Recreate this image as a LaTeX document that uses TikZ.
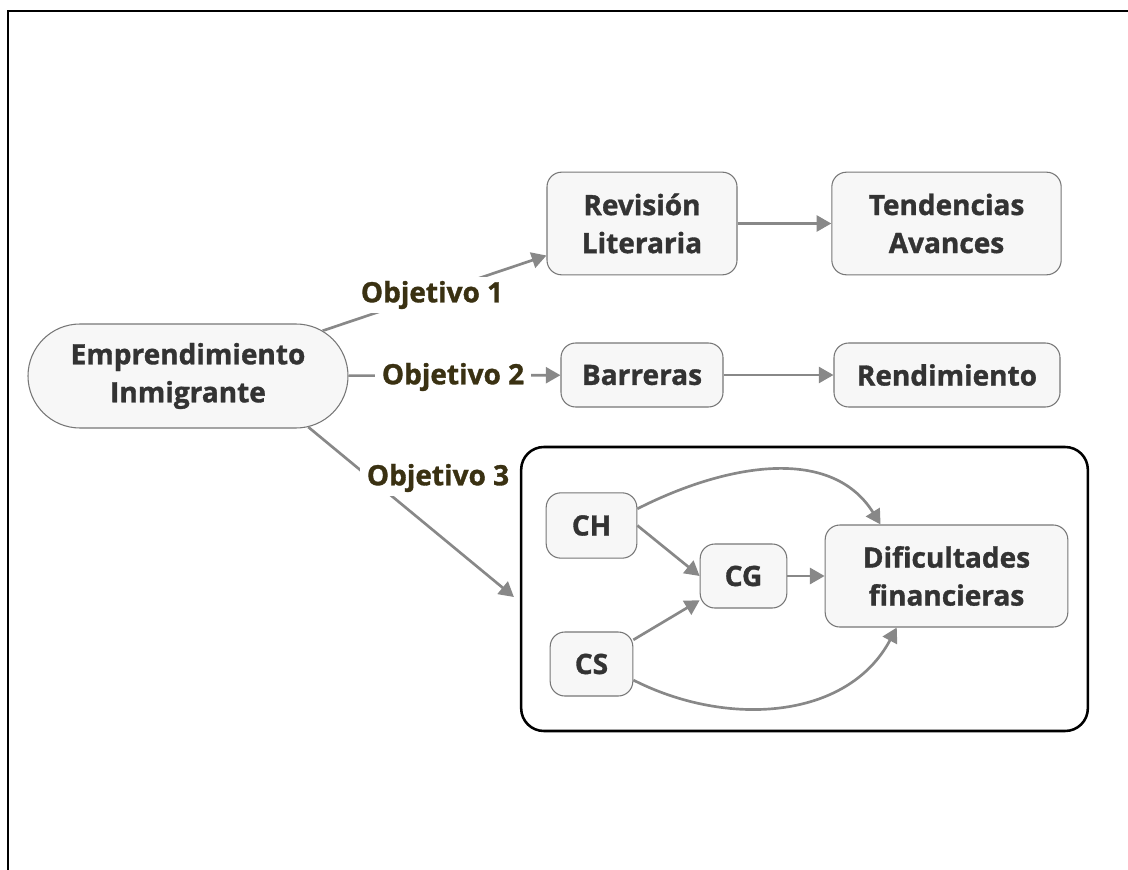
\documentclass[tikz,border=0pt]{standalone}
\usepackage{fontspec}
\setsansfont{Open Sans}[BoldFeatures={FakeBold=1.2}]
\usetikzlibrary{
    arrows.meta,
    positioning,
    shapes.misc
}
\definecolor{boxfill}{HTML}{F7F7F7}
\definecolor{boxline}{HTML}{777777}
\definecolor{boxtext}{HTML}{333333}
\definecolor{objtext}{HTML}{3A3112}
\definecolor{linkgray}{HTML}{888888}

\begin{document}
\begin{tikzpicture}[
        x=0.75pt, y=0.75pt,
        every node/.style={
            font=\sffamily\bfseries\fontsize{21pt}{28.5pt}\selectfont,
            text=boxtext
        },
        topic/.style={
            rectangle,
            rounded corners=11pt,
            draw=boxline,
            line width=0.8pt,
            fill=boxfill,
            align=center,
            inner sep=0pt
        },
        root/.style={
            rounded rectangle,
            draw=boxline,
            line width=0.8pt,
            fill=boxfill,
            align=center,
            inner sep=0pt
        },
        goal/.style={
            fill=white,
            text=objtext,
            inner xsep=5pt,
            inner ysep=3pt
        },
        group/.style={
            rectangle,
            rounded corners=17pt,
            draw=black,
            line width=1.9pt,
            inner sep=0pt
        },
        arrow/.style={
            -{Triangle[length=11pt,width=12pt]},
            line width=2pt,
            draw=linkgray
        }
    ]

    \useasboundingbox (0,0) rectangle (1128,-870);
    \draw[line width=1pt] (8,-870) -- (8,-11) -- (1128,-11);

    \node[root, minimum width=240pt, minimum height=78pt] (emp) at (188,-376)
        {Emprendimiento\\Inmigrante};

    % objetivo 1
    \node[topic, minimum width=142.5pt, minimum height=77pt] (rev) at (642,-223.5)
        {Revisión\\Literaria};
    \node[topic, minimum width=172pt, minimum height=77pt] (tend) at (946.5,-223.5)
        {Tendencias\\Avances};

    % objetivo 2
    \node[topic, minimum width=121.5pt, minimum height=48pt] (bar) at (642,-375)
        {Barreras};
    \node[topic, minimum width=169.5pt, minimum height=48pt] (rend) at (947,-375)
        {Rendimiento};

    % objetivo 3
    \node[group, minimum width=425pt, minimum height=213pt] (box) at (804.5,-589) {};
    \node[topic, minimum width=68pt, minimum height=49pt] (ch) at (591.5,-525.5) {CH};
    \node[topic, minimum width=62pt, minimum height=48pt] (cs) at (591.5,-664) {CS};
    \node[topic, minimum width=65pt, minimum height=48pt] (cg) at (743.5,-576) {CG};
    \node[topic, minimum width=182pt, minimum height=76.5pt] (dif) at (946.5,-576)
        {Dificultades\\financieras};

    \draw[arrow] (emp) -- (rev);
    \draw[arrow] (emp) -- (bar);
    \draw[arrow] (emp.-23) -- ([shift={(-6,-8)}]box.west);

    \node[goal] (obj1) at (432,-295) {Objetivo 1};
    \node[goal] (obj2) at (453,-377) {Objetivo 2};
    \node[goal] (obj3) at (438,-478) {Objetivo 3};

    \draw[arrow] (rev) -- (tend);
    \draw[arrow] (bar) -- (rend);

    \draw[arrow] (ch.east) -- (cg.west);
    \draw[arrow] (cs.30) -- (cg.-151);
    \draw[arrow] (cg) -- (dif);
    \draw[arrow] (ch.20) to[out=27, in=122] (dif.142);
    \draw[arrow] (cs.-21) to[out=-27, in=-118] (dif.-134);

\end{tikzpicture}
\end{document}
